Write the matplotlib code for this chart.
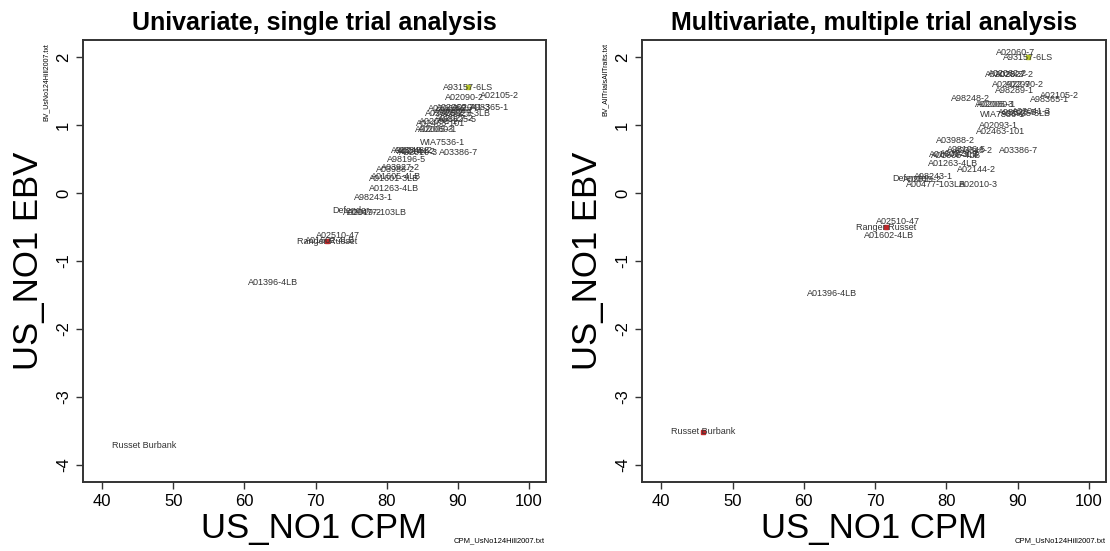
import matplotlib
matplotlib.use('Agg')
import matplotlib.pyplot as plt

plt.rcParams['font.family'] = ['Liberation Sans', 'DejaVu Sans']
plt.rcParams['axes.unicode_minus'] = False

# clone names, CPM (shared x) and EBV from the two analyses
names = ['Russet Burbank', 'A01396-4LB', 'Ranger Russet', 'A01602-4LB', 'A02510-47',
         'Defender', 'A02019-2', 'A98243-1', 'A00477-103LB', 'A01263-4LB',
         'A01601-3LB', 'A01605-4LB', 'A03988-2', 'A03927-2', 'A98196-5',
         'A98248-2', 'A03348-2', 'A02144-2', 'A02010-3', 'A02005-3',
         'A02060-1', 'A02093-1', 'A02463-101', 'WIA7536-1', 'A02028-2',
         'A02062-2', 'A98289-1', 'A02022-7', 'A02027-2', 'A02060-7',
         'A98325-5', 'A03386-7', 'A02090-2', 'A03925-3LB', 'A93157-6LS',
         'A02041-3', 'A98365-1', 'A02105-2']
cpm = [45.9, 64.0, 71.6, 72.0, 73.2,
       75.0, 76.6, 78.2, 78.6, 81.0,
       81.1, 81.3, 81.3, 81.9, 82.8,
       83.4, 83.8, 84.2, 84.5, 86.8,
       87.1, 87.3, 87.6, 87.9, 88.1,
       88.6, 89.6, 89.2, 89.5, 89.7,
       90.0, 90.1, 91.0, 91.2, 91.4,
       92.0, 94.5, 95.9]
ebv_single = [-3.72, -1.32, -0.71, -0.70, -0.62,
              -0.25, -0.28, -0.07, -0.28, 0.07,
              0.22, 0.24, 0.35, 0.37, 0.50,
              0.62, 0.63, 0.61, 0.60, 0.93,
              0.94, 1.05, 1.02, 0.75, 1.17,
              1.25, 1.22, 1.19, 1.10, 1.26,
              1.08, 0.59, 1.40, 1.17, 1.56,
              1.26, 1.26, 1.44]
ebv_multi = [-3.51, -1.47, -0.50, -0.62, -0.42,
             0.22, 0.20, 0.24, 0.12, 0.44,
             0.57, 0.56, 0.77, 0.58, 0.64,
             1.39, 0.63, 0.34, 0.12, 1.31,
             1.30, 0.99, 0.90, 1.16, 1.75,
             1.76, 1.51, 1.59, 1.74, 2.07,
             1.18, 0.63, 1.60, 1.17, 2.00,
             1.20, 1.37, 1.44]

titles = ['Univariate, single trial analysis', 'Multivariate, multiple trial analysis']
bv_files = ['BV_UsNo124Hill2007.txt', 'BV_AllTrialsAllTraits.txt']
cpm_file = 'CPM_UsNo124Hill2007.txt'

# check varieties get a coloured mark
marks_single = {'Ranger Russet': '#c0282a', 'A93157-6LS': '#b5c42a'}
marks_multi = {'Russet Burbank': '#c0282a', 'Ranger Russet': '#c0282a', 'A93157-6LS': '#b5c42a'}


def panel(ax, ebv, title, marks):
    for n, x, y in zip(names, cpm, ebv):
        if n in marks:
            ax.plot(x, y, marker='s', ms=3, color=marks[n], mec=marks[n], zorder=1)
        ax.text(x, y, n, fontsize=6.5, color='#333333', ha='center', va='center', zorder=2)
    ax.set_xlim(37.3, 102.4)
    ax.set_ylim(-4.25, 2.25)
    ax.set_xticks(range(40, 101, 10))
    ax.set_yticks(range(-4, 3))
    ax.tick_params(labelsize=12, length=5, width=1, color='#333333')
    for lab in ax.get_yticklabels():
        lab.set_rotation(90)
        lab.set_va('center')
    for s in ax.spines.values():
        s.set_linewidth(1.4)
        s.set_color('#333333')
    ax.set_xlabel('US_NO1 CPM', fontsize=25, labelpad=2)
    ax.set_ylabel('US_NO1 EBV', fontsize=25, labelpad=8)
    ax.set_title(title, fontsize=18, fontweight='bold', pad=7)


fig = plt.figure(figsize=(11.1, 5.51), dpi=100)
ax1 = fig.add_axes([0.0748, 0.1252, 0.417, 0.802])
ax2 = fig.add_axes([0.5784, 0.1252, 0.418, 0.802])
panel(ax1, ebv_single, titles[0], marks_single)
panel(ax2, ebv_multi, titles[1], marks_multi)

fig.text(0.042, 0.922, bv_files[0], rotation=90, fontsize=5, ha='center', va='top')
fig.text(0.545, 0.922, bv_files[1], rotation=90, fontsize=5, ha='center', va='top')
fig.text(0.491, 0.012, cpm_file, fontsize=5.5, ha='right', va='bottom')
fig.text(0.996, 0.012, cpm_file, fontsize=5.5, ha='right', va='bottom')

fig.savefig('out.png', dpi=100)
